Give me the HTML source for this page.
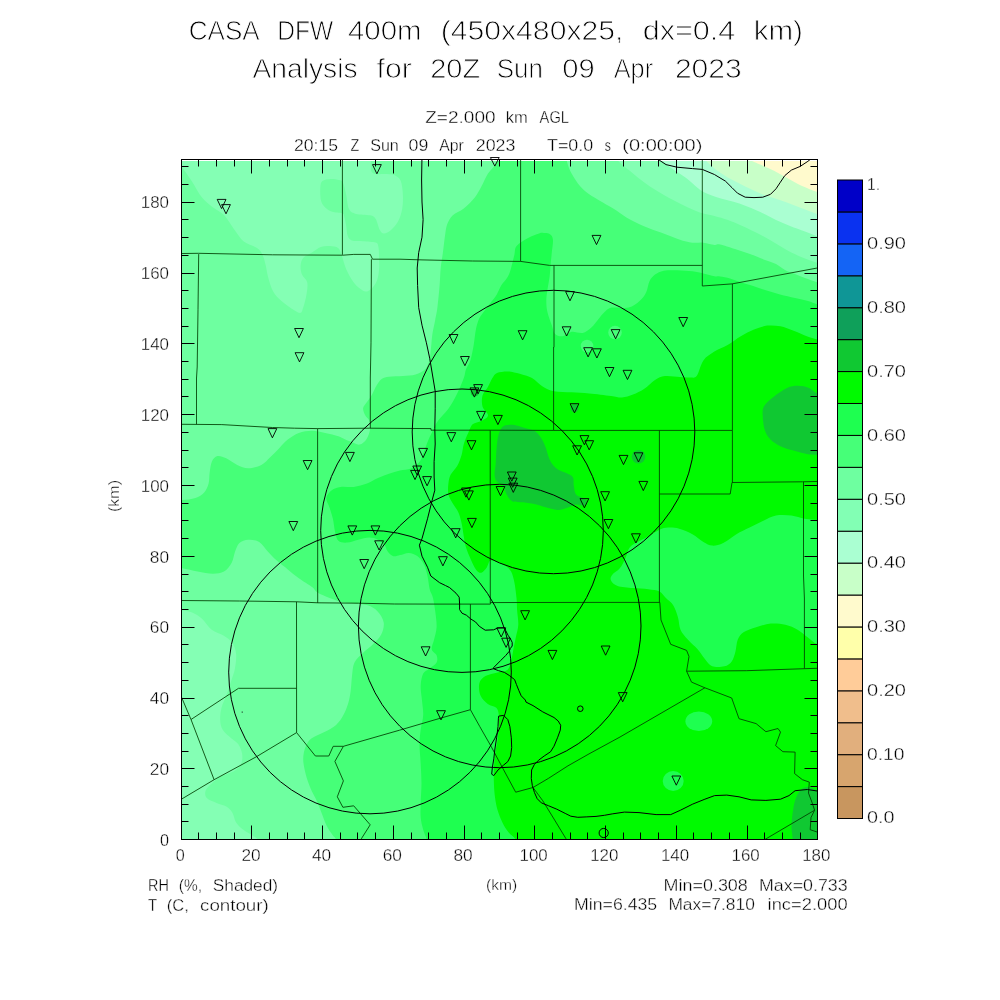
<!DOCTYPE html><html><head><meta charset="utf-8"><title>plot</title>
<style>html,body{margin:0;padding:0;background:#fff;}svg{display:block;will-change:transform;font-family:"Liberation Sans",sans-serif;}.t{fill:#000;stroke:#fff;stroke-width:0.9px;}.s{fill:#000;stroke:#fff;stroke-width:0.35px;}</style></head><body>
<svg width="1000" height="1000" viewBox="0 0 1000 1000">
<rect width="1000" height="1000" fill="#fff"/>
<defs><clipPath id="cp"><rect x="181.5" y="159.5" width="636" height="680"/></clipPath></defs>
<g clip-path="url(#cp)">
<rect x="170" y="150" width="660" height="700" fill="#6EFFA0"/>
<path d="M370.7 150.0C370.7 152.4 370.6 160.7 370.7 164.2C370.8 167.7 370.6 169.6 371.4 171.2C372.2 172.8 373.0 173.5 375.6 174.0C378.2 174.5 383.5 173.8 386.8 174.0C390.1 174.2 392.9 174.2 395.2 175.4C397.5 176.6 399.5 177.7 400.8 181.0C402.1 184.3 402.7 190.3 402.9 195.0C403.1 199.7 403.0 204.6 402.2 209.0C401.4 213.4 399.9 218.1 398.0 221.6C396.1 225.1 393.3 228.0 391.0 230.0C388.7 232.0 385.9 233.5 384.0 233.5C382.1 233.5 381.2 232.4 379.8 230.0C378.4 227.6 377.2 221.2 375.6 218.8C374.0 216.4 373.3 216.1 370.0 215.3C366.7 214.5 359.5 215.0 356.0 213.9C352.5 212.8 350.6 212.2 349.0 209.0C347.4 205.8 347.1 199.2 346.2 195.0C345.3 190.8 344.3 186.2 343.4 183.8C342.5 181.4 342.7 181.1 340.6 180.3C338.5 179.5 333.8 178.8 330.8 178.9C327.8 179.0 324.1 179.5 322.4 181.0C320.6 182.5 320.5 184.7 320.3 188.0C320.1 191.3 320.2 197.3 321.0 200.6C321.8 203.9 323.3 205.7 325.2 207.6C327.1 209.5 329.4 210.9 332.2 211.8C335.0 212.7 340.0 212.5 342.0 213.2C344.0 213.9 343.4 213.9 344.1 216.0C344.8 218.1 345.6 222.5 346.2 225.8C346.8 229.1 346.7 233.2 347.6 235.6C348.5 238.0 349.2 239.6 351.8 240.5C354.4 241.4 359.0 240.8 363.0 241.2C367.0 241.5 373.0 241.7 375.6 242.6C378.2 243.5 377.8 244.2 378.4 246.8C379.0 249.4 379.0 254.3 379.1 258.0C379.2 261.7 379.5 265.5 379.1 269.2C378.8 272.9 378.3 277.1 377.0 280.4C375.7 283.7 373.3 286.9 371.4 288.8C369.5 290.7 367.7 291.6 365.8 291.6C363.9 291.6 362.3 290.4 360.2 288.8C358.1 287.2 355.5 285.1 353.2 281.8C350.9 278.5 348.1 273.4 346.2 269.2C344.3 265.0 343.3 260.1 342.0 256.6C340.7 253.1 340.5 250.0 338.4 248.2C336.3 246.4 332.5 246.2 329.6 246.0C326.7 245.8 323.7 245.9 320.8 247.0C317.9 248.1 314.9 250.8 312.0 252.6C309.1 254.4 305.1 255.8 303.2 258.0C301.3 260.2 300.8 263.0 300.6 265.8C300.4 268.6 300.9 271.9 302.0 274.6C303.1 277.4 306.4 279.0 307.2 282.3C307.9 285.6 307.2 290.2 306.5 294.4C305.8 298.6 304.3 304.5 303.2 307.6C302.1 310.7 302.2 313.0 300.0 313.0C297.8 313.0 293.5 310.0 290.0 307.6C286.5 305.2 281.9 301.7 279.0 298.8C276.1 295.9 274.2 293.7 272.4 290.0C270.6 286.3 269.1 280.8 268.0 276.8C266.9 272.8 266.7 269.5 265.8 265.8C264.9 262.1 264.0 257.8 262.5 254.8C261.0 251.8 260.1 250.2 257.0 248.0C253.9 245.8 247.5 244.5 243.8 241.6C240.1 238.7 238.3 235.0 235.0 230.6C231.7 226.2 227.7 218.8 224.0 215.0C220.3 211.2 216.7 210.4 213.0 207.5C209.3 204.6 205.7 202.2 202.0 197.6C198.3 193.0 194.5 185.3 191.0 180.0C187.5 174.7 184.2 170.2 181.0 166.0C177.8 161.8 173.5 156.8 172.0 155.0L170.0 150.0Z" fill="#84FFB4"/>
<path d="M170.0 608.0C172.1 608.4 178.7 609.4 182.4 610.2C186.1 611.0 188.9 611.2 192.2 612.6C195.5 614.0 198.8 615.9 202.0 618.7C205.2 621.6 208.0 626.9 211.7 629.7C215.3 632.6 220.4 633.6 223.9 635.8C227.4 638.0 230.4 640.0 232.4 643.1C234.4 646.2 235.7 649.8 236.1 654.1C236.5 658.4 235.7 664.3 234.9 668.8C234.1 673.3 232.6 676.5 231.2 681.0C229.8 685.5 227.9 691.1 226.3 695.6C224.7 700.1 222.5 703.7 221.5 707.8C220.5 711.9 220.0 716.3 220.2 720.0C220.4 723.7 220.9 726.8 222.7 729.8C224.5 732.8 228.6 735.9 231.2 738.3C233.8 740.7 236.7 741.8 238.5 744.4C240.3 747.0 241.8 751.0 242.2 754.2C242.6 757.5 242.4 761.1 241.0 763.9C239.6 766.7 236.9 769.2 233.7 771.2C230.4 773.2 225.2 774.1 221.5 776.1C217.8 778.1 214.3 781.0 211.7 783.4C209.0 785.8 206.4 788.3 205.6 790.8C204.8 793.2 205.0 796.1 206.8 798.1C208.6 800.1 213.3 801.6 216.6 803.0C219.8 804.4 223.7 805.0 226.3 806.6C228.9 808.2 230.8 810.1 232.4 812.7C234.0 815.4 234.3 819.6 236.1 822.5C237.9 825.4 240.6 827.6 243.4 829.8C246.2 832.0 250.8 834.3 253.2 835.9C255.6 837.5 256.5 837.1 258.0 839.5C259.5 841.9 261.3 848.2 262.0 850.0L170.0 850.0Z" fill="#84FFB4"/>
<path d="M608.0 150.0C609.6 151.7 615.3 157.8 617.6 160.2C619.9 162.6 619.4 162.4 622.0 164.6C624.6 166.8 629.3 170.5 633.0 173.4C636.7 176.3 640.0 179.3 644.0 182.2C648.0 185.1 652.4 188.1 657.2 191.0C662.0 193.9 667.5 197.1 672.6 199.8C677.7 202.6 682.9 205.2 688.0 207.5C693.1 209.8 699.0 212.2 703.4 213.6C707.8 215.0 710.3 214.9 714.4 216.0C718.5 217.1 723.7 218.5 728.0 220.0C732.3 221.5 735.5 223.0 740.0 225.0C744.5 227.0 750.0 229.5 755.0 232.0C760.0 234.5 765.0 237.2 770.0 240.0C775.0 242.8 780.0 246.2 785.0 249.0C790.0 251.8 794.6 254.2 800.0 256.5C805.4 258.8 812.5 261.1 817.5 263.0C822.5 264.9 827.9 267.2 830.0 268.0L830.0 150.0Z" fill="#84FFB4"/>
<path d="M650.0 150.0C651.9 151.7 657.8 157.0 661.6 160.2C665.4 163.4 668.6 166.1 672.6 169.0C676.6 171.9 681.6 174.7 685.8 177.8C690.0 181.0 694.5 185.4 697.8 187.9C701.1 190.4 702.6 191.6 705.6 193.1C708.6 194.6 712.3 195.8 716.0 197.0C719.7 198.2 723.8 199.2 727.7 200.3C731.6 201.4 735.5 202.2 739.4 203.5C743.3 204.8 747.2 206.4 751.1 208.0C755.0 209.6 758.6 211.3 762.8 213.3C766.9 215.3 771.5 217.9 776.0 220.0C780.5 222.1 785.2 224.1 790.0 226.0C794.8 227.9 800.4 229.8 805.0 231.5C809.6 233.2 813.3 234.9 817.5 236.5C821.7 238.1 827.9 240.2 830.0 241.0L830.0 150.0Z" fill="#AAFFD2"/>
<path d="M695.0 150.0C696.8 151.8 702.1 157.3 705.6 160.6C709.1 163.9 712.3 166.9 716.0 169.7C719.7 172.5 723.8 175.2 727.7 177.5C731.6 179.8 735.5 181.5 739.4 183.4C743.3 185.3 747.2 187.4 751.1 189.2C755.0 191.0 758.9 192.9 762.8 194.4C766.7 195.9 770.6 197.0 774.5 198.3C778.4 199.6 782.3 200.8 786.2 202.2C790.1 203.6 794.0 205.3 797.9 206.8C801.8 208.3 806.4 210.1 809.6 211.3C812.9 212.5 814.0 212.9 817.4 214.2C820.8 215.5 827.9 218.2 830.0 219.0L830.0 150.0Z" fill="#C8FFC8"/>
<path d="M730.0 150.0C733.5 151.8 745.6 158.0 751.1 160.6C756.6 163.2 758.9 164.1 762.8 165.8C766.7 167.5 770.6 169.1 774.5 171.0C778.4 172.9 782.3 175.3 786.2 177.5C790.1 179.7 794.0 182.1 797.9 184.0C801.8 185.9 806.4 187.9 809.6 189.2C812.9 190.5 814.0 190.7 817.4 192.0C820.8 193.3 827.9 196.2 830.0 197.0L830.0 150.0Z" fill="#FFFACD"/>
<path d="M498.0 150.0C497.8 152.1 498.5 158.5 496.8 162.4C495.1 166.3 490.6 169.4 488.0 173.4C485.4 177.4 483.6 182.6 481.4 186.6C479.2 190.6 477.7 193.9 474.8 197.6C471.9 201.3 467.5 205.7 463.8 208.6C460.1 211.5 455.6 212.6 452.8 215.2C450.1 217.8 448.6 220.7 447.3 224.0C446.0 227.3 445.8 230.2 445.1 235.0C444.4 239.8 443.6 247.1 442.9 252.6C442.2 258.1 441.2 262.5 440.7 268.0C440.1 273.5 440.2 279.0 439.6 285.6C439.1 292.2 438.1 301.9 437.4 307.6C436.7 313.3 436.0 315.6 435.2 320.0C434.4 324.4 433.1 329.3 432.4 334.0C431.7 338.7 431.5 343.8 431.0 348.0C430.5 352.2 430.5 355.7 429.6 359.2C428.7 362.7 427.7 366.4 425.4 369.0C423.1 371.6 419.3 373.4 415.6 374.6C411.9 375.8 407.4 375.6 403.0 376.0C398.6 376.4 392.5 376.2 389.0 376.7C385.5 377.2 384.1 377.3 382.0 378.8C379.9 380.3 378.0 383.2 376.4 385.8C374.8 388.4 373.8 391.4 372.2 394.2C370.6 397.0 368.1 400.3 366.6 402.6C365.1 404.9 363.3 406.1 363.1 408.2C362.9 410.3 364.1 413.1 365.2 415.2C366.2 417.3 368.6 418.5 369.4 420.8C370.2 423.1 370.6 426.2 370.1 429.2C369.6 432.2 368.4 436.4 366.6 439.0C364.9 441.6 362.2 444.1 359.6 444.6C357.0 445.1 353.8 442.7 351.2 441.8C348.6 440.9 346.3 439.9 344.2 439.0C342.1 438.1 341.6 437.3 338.4 436.3C335.2 435.3 329.6 433.9 325.2 433.0C320.8 432.1 316.4 430.8 312.0 430.8C307.6 430.8 302.8 431.5 298.8 433.0C294.8 434.5 291.1 437.0 287.8 439.6C284.5 442.2 281.9 445.5 279.0 448.4C276.1 451.3 273.1 454.4 270.2 457.2C267.3 459.9 265.1 463.1 261.4 464.9C257.7 466.7 252.2 468.2 248.2 468.2C244.2 468.2 240.9 466.5 237.2 464.9C233.5 463.2 229.5 459.8 226.2 458.3C222.9 456.8 219.8 455.6 217.4 456.1C215.0 456.7 213.2 458.9 211.9 461.6C210.6 464.4 210.2 468.9 209.7 472.6C209.1 476.3 209.5 480.3 208.6 483.6C207.7 486.9 206.4 490.0 204.2 492.4C202.0 494.8 199.1 496.6 195.4 497.9C191.7 499.2 186.2 499.6 182.0 500.1C177.8 500.6 172.0 500.9 170.0 501.0L170.0 567.0C172.0 567.2 177.6 567.5 182.2 568.3C186.8 569.1 192.5 570.7 197.6 571.6C202.7 572.5 208.6 573.8 213.0 573.8C217.4 573.8 220.9 573.4 224.0 571.6C227.1 569.8 229.9 566.1 231.7 562.8C233.5 559.5 233.7 555.1 235.0 551.8C236.3 548.5 237.2 545.0 239.4 543.0C241.6 541.0 244.9 539.9 248.2 539.7C251.5 539.5 255.9 539.9 259.2 541.9C262.5 543.9 265.1 548.7 268.0 551.8C270.9 554.9 273.5 557.7 276.8 560.6C280.1 563.5 284.1 566.5 287.8 569.4C291.5 572.3 294.8 575.3 298.8 578.2C302.8 581.1 308.9 584.6 312.0 587.0C315.1 589.4 314.6 590.7 317.5 592.5C320.4 594.3 325.7 596.5 329.6 598.0C333.5 599.5 336.7 600.8 341.0 601.7C345.3 602.6 351.1 602.8 355.6 603.4C360.1 604.0 364.1 604.0 367.8 605.3C371.5 606.6 375.0 608.5 377.6 611.4C380.2 614.2 383.1 618.5 383.7 622.4C384.3 626.3 383.0 630.9 381.2 634.6C379.4 638.3 375.8 641.4 372.7 644.4C369.6 647.4 365.9 649.8 362.9 652.9C359.8 656.0 356.2 658.8 354.4 662.7C352.6 666.6 352.6 671.4 352.0 676.1C351.4 680.8 351.3 686.2 350.7 690.7C350.1 695.2 349.5 698.8 348.3 702.9C347.1 707.0 345.4 711.4 343.4 715.1C341.4 718.8 339.4 722.0 336.1 724.9C332.9 727.8 328.0 730.0 323.9 732.2C319.8 734.4 314.8 735.9 311.7 738.3C308.6 740.7 307.0 743.3 305.6 746.8C304.2 750.2 303.2 754.5 303.2 759.0C303.2 763.5 304.4 768.8 305.6 773.7C306.8 778.6 308.7 783.8 310.5 788.3C312.3 792.8 314.8 796.4 316.6 800.5C318.4 804.6 319.9 808.6 321.5 812.7C323.1 816.8 324.5 821.2 326.3 824.9C328.1 828.6 330.8 832.3 332.4 834.7C334.0 837.1 334.8 837.0 336.1 839.5C337.4 842.0 339.4 848.2 340.0 850.0L830.0 850.0L830.0 287.0C827.9 286.2 821.7 284.0 817.5 282.5C813.3 281.0 808.8 279.4 805.0 278.0C801.2 276.6 798.3 275.3 795.0 274.0C791.7 272.7 788.2 271.7 785.0 270.0C781.8 268.3 779.3 265.7 776.0 264.0C772.7 262.3 769.3 261.7 765.0 260.0C760.7 258.3 755.0 255.8 750.0 254.0C745.0 252.2 740.0 250.6 735.0 249.0C730.0 247.4 723.4 245.2 720.0 244.5C716.6 243.8 717.2 245.2 714.4 244.9C711.6 244.6 707.1 243.1 703.4 242.7C699.7 242.3 696.4 243.2 692.4 242.7C688.4 242.1 684.3 241.1 679.2 239.4C674.1 237.8 667.5 235.0 661.6 232.8C655.7 230.6 649.9 228.8 644.0 226.2C638.1 223.6 631.5 220.3 626.4 217.4C621.3 214.5 617.6 211.3 613.2 208.6C608.8 205.9 604.2 203.4 600.2 201.0C596.2 198.6 592.5 196.7 589.2 194.3C585.9 191.9 583.3 190.1 580.4 186.6C577.5 183.1 573.8 177.4 571.6 173.4C569.4 169.4 568.3 166.3 567.2 162.4C566.1 158.5 565.4 152.1 565.0 150.0Z" fill="#46FF78"/>
<path d="M540.8 232.8C538.6 233.7 531.6 236.1 527.6 238.3C523.6 240.5 518.8 243.2 516.6 246.0C514.4 248.8 515.3 251.1 514.4 254.8C513.5 258.5 512.2 264.3 511.1 268.0C510.0 271.7 509.5 273.9 507.8 276.8C506.1 279.7 503.0 282.7 501.2 285.6C499.4 288.5 498.6 291.5 496.8 294.4C495.0 297.3 492.4 300.3 490.2 303.2C488.0 306.1 485.4 309.4 483.6 312.0C481.8 314.6 480.5 315.7 479.2 318.6C477.9 321.5 476.8 325.2 475.9 329.6C475.0 334.0 474.6 339.9 473.7 345.0C472.8 350.1 471.7 356.4 470.4 360.4C469.1 364.4 467.1 366.3 466.0 369.2C464.9 372.1 465.3 374.0 463.8 378.0C462.3 382.0 459.8 388.3 457.2 393.4C454.6 398.5 451.6 404.2 448.4 408.8C445.2 413.4 440.7 417.0 438.0 420.8C435.3 424.6 434.1 428.2 432.4 431.6C430.7 435.0 429.4 437.7 428.0 441.0C426.6 444.3 425.4 448.2 424.0 451.6C422.6 455.0 422.0 458.8 419.8 461.6C417.6 464.4 414.3 466.9 411.0 468.4C407.7 469.9 403.7 469.6 400.0 470.5C396.3 471.4 392.7 472.4 389.0 473.7C385.3 475.0 381.7 476.5 378.0 478.1C374.3 479.8 371.0 482.1 367.0 483.6C363.0 485.1 358.2 486.3 353.8 486.9C349.4 487.4 344.3 486.3 340.6 486.9C336.9 487.4 334.2 488.4 331.8 490.2C329.4 492.0 326.7 495.0 326.3 497.9C325.9 500.8 328.5 504.3 329.6 507.8C330.7 511.3 332.0 514.8 332.9 518.8C333.8 522.8 334.2 528.3 335.1 532.0C336.0 535.7 336.4 539.0 338.4 540.8C340.4 542.6 343.9 542.8 347.2 542.6C350.5 542.4 354.5 540.6 358.2 539.7C361.9 538.9 365.9 537.5 369.2 537.5C372.5 537.5 375.4 538.4 378.0 539.7C380.6 541.0 383.0 543.2 384.6 545.2C386.2 547.2 386.4 550.0 387.9 551.8C389.4 553.6 391.4 555.7 393.4 556.2C395.4 556.8 397.4 555.7 400.0 555.1C402.6 554.5 405.9 552.7 408.8 552.9C411.7 553.1 415.0 554.2 417.6 556.2C420.2 558.2 422.6 561.7 424.2 565.0C425.8 568.3 426.6 572.0 427.5 576.0C428.4 580.0 428.8 585.5 429.7 589.2C430.6 592.9 432.1 594.1 433.0 598.0C433.9 601.9 434.8 607.7 435.4 612.6C436.0 617.5 436.8 622.8 436.6 627.3C436.4 631.8 434.9 635.9 434.1 639.5C433.3 643.1 431.3 646.6 431.7 649.2C432.1 651.8 435.8 653.1 436.6 655.3C437.4 657.5 437.8 660.4 436.6 662.6C435.4 664.8 431.5 666.9 429.3 668.7C427.1 670.5 424.6 670.8 423.2 673.6C421.8 676.5 420.9 681.3 420.7 685.8C420.5 690.3 421.6 695.5 422.0 700.4C422.4 705.3 423.4 710.2 423.2 715.1C423.0 720.0 421.3 724.8 420.7 729.7C420.1 734.6 419.5 738.6 419.5 744.3C419.5 750.0 420.4 757.4 420.7 763.9C421.0 770.4 421.5 776.9 421.5 783.4C421.5 789.9 420.8 797.2 420.7 802.9C420.6 808.6 420.3 813.0 420.7 817.5C421.1 822.0 422.2 826.0 423.2 829.7C424.2 833.4 425.7 836.1 426.8 839.5C427.9 842.9 429.5 848.2 430.0 850.0L830.0 850.0L830.0 309.0C827.9 308.2 821.2 305.8 817.5 304.5C813.8 303.2 811.8 302.1 808.0 301.0C804.2 299.9 799.7 299.1 795.0 298.0C790.3 296.9 785.0 295.8 780.0 294.5C775.0 293.2 770.0 291.6 765.0 290.0C760.0 288.4 754.2 286.3 750.0 285.0C745.8 283.7 743.3 283.1 740.0 282.0C736.7 280.9 733.3 279.4 730.0 278.5C726.7 277.6 722.6 276.9 720.0 276.5C717.4 276.1 717.2 276.8 714.4 276.3C711.6 275.8 707.1 274.3 703.4 273.5C699.7 272.7 696.8 271.9 692.4 271.3C688.0 270.8 681.8 270.3 677.0 270.2C672.2 270.1 667.5 270.0 663.8 270.7C660.1 271.4 657.4 272.9 655.0 274.6C652.6 276.4 651.0 278.3 649.5 281.2C648.0 284.1 647.9 288.9 646.2 292.2C644.6 295.5 642.5 298.4 639.6 301.0C636.7 303.6 633.2 306.5 628.6 307.6C624.0 308.7 616.0 306.9 612.0 307.6C608.0 308.3 606.9 310.0 604.6 312.0C602.3 314.0 600.2 317.1 598.0 319.7C595.8 322.3 594.0 325.2 591.4 327.4C588.8 329.6 585.9 332.2 582.6 332.9C579.3 333.6 574.9 331.2 571.6 331.8C568.3 332.4 565.5 335.8 562.8 336.2C560.0 336.6 556.9 335.8 555.1 334.0C553.3 332.2 553.1 328.9 551.8 325.2C550.5 321.5 548.3 316.0 547.4 312.0C546.5 308.0 546.3 304.7 546.3 301.0C546.3 297.3 546.8 294.0 547.4 290.0C548.0 286.0 549.0 281.2 549.6 276.8C550.2 272.4 550.3 267.6 550.7 263.6C551.1 259.6 551.4 256.6 551.8 252.6C552.2 248.6 553.3 242.5 552.9 239.4C552.5 236.3 551.6 235.0 549.6 233.9C547.6 232.8 542.3 233.0 540.8 232.8Z" fill="#1EFF50"/>
<circle cx="587" cy="346" r="6.3" fill="#46FF78"/><circle cx="615" cy="332.5" r="6.8" fill="#46FF78"/>
<path d="M518.8 373.5C517.0 373.2 511.6 371.6 508.0 371.5C504.4 371.4 499.6 371.9 497.0 373.0C494.4 374.1 493.9 375.7 492.4 378.0C490.9 380.3 489.6 383.9 488.0 386.8C486.4 389.7 483.4 392.3 482.5 395.6C481.6 398.9 481.6 403.3 482.5 406.6C483.4 409.9 488.2 413.0 488.0 415.4C487.8 417.8 484.0 419.4 481.4 420.9C478.8 422.4 474.8 422.2 472.6 424.2C470.4 426.2 469.7 429.7 468.2 433.0C466.7 436.3 464.9 440.3 463.8 444.0C462.7 447.7 462.7 451.3 461.6 455.0C460.5 458.7 459.0 462.7 457.2 466.0C455.4 469.3 452.1 471.9 450.6 474.8C449.1 477.7 448.8 480.3 448.4 483.6C448.0 486.9 447.7 491.3 448.4 494.6C449.1 497.9 451.1 500.5 452.8 503.4C454.5 506.3 456.8 508.9 458.3 512.2C459.8 515.5 460.7 519.2 461.6 523.2C462.5 527.2 463.1 532.4 463.8 536.4C464.5 540.4 464.9 543.7 466.0 547.4C467.1 551.1 468.8 554.7 470.4 558.4C472.0 562.1 474.1 567.0 475.9 569.4C477.7 571.8 479.6 573.1 481.4 572.7C483.2 572.3 485.4 569.2 486.9 567.2C488.4 565.2 488.5 561.5 490.2 560.6C491.9 559.7 494.2 560.8 496.8 561.7C499.4 562.6 503.2 564.5 505.6 566.1C508.0 567.8 509.6 568.9 511.1 571.6C512.6 574.4 513.5 578.2 514.4 582.6C515.3 587.0 516.0 593.4 516.5 598.0C517.0 602.6 516.8 605.7 517.1 610.2C517.4 614.7 518.5 620.3 518.3 624.8C518.1 629.3 516.7 632.9 515.9 637.0C515.1 641.1 514.2 645.1 513.4 649.2C512.6 653.3 512.0 657.9 511.0 661.4C510.0 664.9 509.5 668.2 507.3 670.0C505.1 671.8 501.2 671.4 497.6 672.4C494.0 673.4 488.4 674.2 485.4 676.0C482.3 677.8 480.1 680.1 479.3 683.4C478.5 686.7 479.1 692.1 480.5 695.6C481.9 699.1 485.2 702.1 487.8 704.1C490.4 706.1 494.5 706.0 496.3 707.8C498.1 709.6 498.4 711.9 498.8 715.1C499.2 718.4 499.0 723.2 498.8 727.3C498.6 731.4 498.2 735.0 497.6 739.5C497.0 744.0 495.7 749.2 495.1 754.1C494.5 759.0 494.1 763.8 493.9 768.7C493.7 773.6 493.7 778.5 493.9 783.4C494.1 788.3 494.5 793.5 495.1 798.0C495.7 802.5 496.4 806.1 497.6 810.2C498.8 814.3 500.6 818.7 502.4 822.4C504.2 826.1 506.2 829.4 508.5 832.2C510.8 835.1 513.6 836.5 515.9 839.5C518.1 842.5 521.0 848.2 522.0 850.0L830.0 850.0L830.0 343.0C827.9 342.4 821.3 340.6 817.4 339.5C813.5 338.4 810.8 337.7 806.8 336.2C802.8 334.7 798.0 332.3 793.6 330.7C789.2 329.1 784.8 327.1 780.4 326.3C776.0 325.5 771.6 325.1 767.2 325.6C762.8 326.2 758.4 327.8 754.0 329.6C749.6 331.4 745.2 333.6 740.8 336.2C736.4 338.8 732.0 342.4 727.6 345.0C723.2 347.6 718.4 349.0 714.4 351.6C710.4 354.2 706.3 356.4 703.4 360.4C700.5 364.4 699.0 372.9 696.8 375.8C694.6 378.7 692.8 377.3 690.0 377.5C687.2 377.7 684.2 377.2 680.0 377.0C675.8 376.8 669.2 375.5 665.0 376.0C660.8 376.5 658.5 377.8 655.0 380.0C651.5 382.2 647.7 386.6 644.0 389.0C640.3 391.4 636.7 393.1 633.0 394.5C629.3 395.9 625.7 397.2 622.0 397.4C618.3 397.6 616.5 396.6 611.0 395.9C605.5 395.2 595.8 394.0 589.2 393.4C582.6 392.8 577.5 392.7 571.6 392.3C565.7 391.9 558.8 392.1 554.0 391.2C549.2 390.3 546.7 389.0 543.0 386.8C539.3 384.6 536.0 380.2 532.0 378.0C528.0 375.8 521.0 374.2 518.8 373.5Z" fill="#00FA00"/>
<path d="M830.0 645.0C827.9 644.9 821.3 645.6 817.5 644.3C813.7 643.0 810.6 639.4 807.3 637.0C804.0 634.6 801.2 631.7 797.6 629.7C794.0 627.7 789.9 625.8 785.4 624.8C780.9 623.8 775.6 623.2 770.7 623.6C765.8 624.0 760.6 625.9 756.1 627.3C751.6 628.7 747.0 630.1 743.9 632.1C740.8 634.1 739.2 636.2 737.8 639.5C736.4 642.8 736.4 648.1 735.4 651.7C734.4 655.4 733.5 659.0 731.7 661.4C729.9 663.8 727.6 665.5 724.4 666.3C721.1 667.1 715.5 667.5 712.2 666.3C709.0 665.1 707.3 661.9 704.9 659.0C702.5 656.1 700.5 652.5 697.6 649.2C694.8 646.0 690.6 642.8 687.8 639.5C684.9 636.2 682.1 633.4 680.5 629.7C678.9 626.0 679.2 621.6 678.0 617.5C676.8 613.4 675.2 608.5 673.2 605.3C671.2 602.0 668.2 600.3 665.9 598.0C663.6 595.7 662.3 592.9 659.4 591.4C656.5 589.9 652.8 589.8 648.4 589.2C644.0 588.7 638.1 588.7 633.0 588.1C627.9 587.5 621.3 587.2 617.6 585.9C613.9 584.6 611.9 582.2 611.0 580.4C610.1 578.6 610.6 576.9 612.1 574.9C613.6 572.9 617.6 571.0 619.8 568.3C622.0 565.5 623.6 561.9 625.3 558.4C626.9 554.9 627.7 550.1 629.7 547.4C631.7 544.6 634.3 543.7 637.4 541.9C640.5 540.1 644.7 538.4 648.4 536.4C652.1 534.4 656.1 531.3 659.4 529.8C662.7 528.3 664.9 527.8 668.2 527.6C671.5 527.4 675.2 527.6 679.2 528.7C683.2 529.8 688.4 532.0 692.4 534.2C696.4 536.4 700.1 540.0 703.4 541.9C706.7 543.8 708.9 545.4 712.2 545.6C715.5 545.8 719.2 544.9 723.2 543.0C727.2 541.1 732.0 536.8 736.4 534.2C740.8 531.6 745.2 529.8 749.6 527.6C754.0 525.4 758.4 523.0 762.8 521.0C767.2 519.0 771.2 516.4 776.0 515.5C780.8 514.6 786.6 515.0 791.4 515.5C796.2 516.0 800.3 518.1 804.6 518.8C808.9 519.5 813.2 519.7 817.4 519.9C821.6 520.1 827.9 520.0 830.0 520.0Z" fill="#1EFF50"/>
<ellipse cx="698.8" cy="721.2" rx="13.4" ry="9.8" fill="#1EFF50"/>
<ellipse cx="673.2" cy="781" rx="10.5" ry="10" fill="#1EFF50"/>
<path d="M505.6 425.3C507.8 424.7 511.5 424.5 514.4 424.9C517.3 425.3 519.9 426.5 523.2 427.5C526.5 428.5 531.3 429.2 534.2 430.8C537.1 432.4 539.0 434.8 540.8 437.4C542.6 440.0 543.7 442.5 545.2 446.2C546.7 449.9 547.8 455.7 549.6 459.4C551.4 463.1 553.6 466.0 556.2 468.2C558.8 470.4 562.2 471.1 565.0 472.6C567.8 474.1 571.2 474.8 572.7 477.0C574.2 479.2 573.2 482.9 573.8 485.8C574.3 488.7 574.5 492.6 576.0 494.6C577.5 496.6 580.8 496.8 582.6 497.9C584.4 499.0 586.6 499.9 587.0 501.2C587.4 502.5 586.6 505.1 584.8 505.6C583.0 506.2 578.9 504.1 576.0 504.5C573.1 504.9 570.1 506.9 567.2 507.8C564.3 508.7 561.7 510.0 558.4 510.0C555.1 510.0 551.1 508.7 547.4 507.8C543.7 506.9 540.4 505.4 536.4 504.5C532.4 503.6 527.2 502.9 523.2 502.3C519.2 501.8 515.0 502.5 512.2 501.2C509.5 499.9 508.2 497.2 506.7 494.6C505.2 492.0 505.0 488.0 503.4 485.8C501.8 483.6 498.3 483.2 496.8 481.4C495.3 479.6 494.8 477.7 494.6 474.8C494.4 471.9 495.4 467.8 495.7 463.8C496.0 459.8 496.0 455.0 496.4 450.6C496.8 446.2 497.1 441.1 497.9 437.4C498.7 433.7 499.9 430.6 501.2 428.6C502.5 426.6 503.4 425.9 505.6 425.3Z" fill="#10C832"/>
<path d="M830.0 397.0C827.9 396.4 820.9 394.9 817.4 393.4C813.9 391.9 812.2 389.2 809.0 387.9C805.8 386.6 801.7 385.7 798.0 385.7C794.3 385.7 791.0 386.1 787.0 387.9C783.0 389.7 777.6 393.6 773.8 396.7C769.9 399.8 765.7 403.1 763.9 406.6C762.1 410.1 762.6 413.6 762.8 417.6C763.0 421.6 763.7 427.1 765.0 430.8C766.3 434.5 767.9 437.0 770.5 439.6C773.1 442.2 776.5 444.4 780.4 446.2C784.2 448.0 789.2 449.3 793.6 450.6C798.0 451.9 802.8 453.2 806.8 453.9C810.8 454.6 813.5 454.6 817.4 455.0C821.3 455.4 827.9 455.8 830.0 456.0Z" fill="#10C832"/>
<path d="M792.7 850.0C792.7 848.2 792.9 843.3 792.7 839.5C792.5 835.7 791.5 831.8 791.5 827.3C791.5 822.8 792.1 817.1 792.7 812.6C793.3 808.1 793.9 804.0 795.1 800.4C796.3 796.8 798.0 792.9 800.0 790.7C802.0 788.5 804.4 787.0 807.3 787.0C810.2 787.0 813.7 789.4 817.5 790.7C821.3 792.0 827.9 794.3 830.0 795.0L830.0 850.0Z" fill="#10C832"/>
<circle cx="638.5" cy="456.8" r="6.8" fill="#10C832"/>
<circle cx="574.5" cy="408" r="4" fill="#10C832"/>
<circle cx="474.8" cy="392.3" r="4" fill="#10C832"/>
<rect x="182" y="160" width="635" height="1" fill="#fff"/>
<path d="M170.0 253.7L198.7 253.3L272.4 254.8L342.8 255.2L353.8 254.4L370.3 254.4L372.5 259.2L400.0 259.2L422.0 259.9L472.6 261.0L520.6 261.4L549.6 265.4L620.0 265.4L702.3 265.4M342.4 150.0L342.4 254.8M198.7 254.1L198.0 309.8L197.2 367.0L196.5 378.0L196.5 424.2M371.4 259.2L371.0 342.8L370.3 378.0L370.3 428.2M170.0 424.2L221.8 424.6L246.0 426.0L272.4 427.5L294.4 428.2L317.5 428.6L369.2 428.2L400.0 428.4L431.0 428.6L431.0 430.2L490.2 430.2L553.6 430.4L620.0 430.4L732.0 430.4M317.6 428.6L317.7 603.0M170.0 600.4L239.6 601.0L296.8 601.8L317.7 602.8L358.4 603.2L394.7 604.0L440.0 604.1L490.4 604.1L490.4 602.6L520.0 602.5L600.0 602.4L659.8 602.4M296.5 601.8L296.6 732.6M238.5 688.3L296.5 688.3M238.5 688.3L191.0 719.5M181.0 696.0L191.0 719.5L214.1 779.7M170.0 806.0L214.1 779.7L256.8 756.5L296.6 732.6M296.6 732.6L315.4 756.0L328.8 756.0L333.2 746.3L343.4 746.3L399.5 730.2L441.0 718.0L470.4 709.7M343.4 746.3L334.9 761.4L343.4 780.9L337.3 796.8L342.9 807.3L353.7 805.8L370.2 824.8L361.7 838.2L359.0 845.0M470.4 604.1L470.4 709.7L479.8 726.6L491.0 746.2L502.2 767.2L515.7 792.2L533.0 787.5L548.4 778.4L568.0 765.8L589.0 753.9L620.0 737.0L704.9 687.8M533.0 787.5L542.8 800.8L554.0 819.0L565.9 838.6L570.0 845.0M659.8 602.4L661.0 620.0L670.7 644.3L686.6 650.4L689.0 656.5L686.6 671.2L691.5 682.1L704.9 687.8L731.7 698.0L739.0 718.7L756.1 723.6L765.9 731.7L778.0 728.5L780.5 732.1L775.6 745.6L782.9 751.7L795.1 752.1L794.6 773.6L802.4 779.7L809.3 782.1L808.5 793.1L812.2 802.9L814.6 810.2L811.0 817.5L810.2 829.7L820.0 833.0M686.6 671.2L746.3 670.7L804.4 668.7L820.0 668.2M804.4 598.0L804.4 668.7M814.6 810.2L767.1 838.2L756.0 845.0M732.4 283.9L732.4 482.5M659.4 430.4L659.4 602.4M659.4 494.0L730.2 494.0L732.0 482.5L802.4 481.8L820.0 481.4M803.5 481.8L803.5 576.0L804.4 598.0M553.6 347.0L553.6 430.4M490.2 430.2L490.3 603.0M520.6 150.0L520.6 261.4M554.0 265.4L554.0 347.2M702.3 150.0L702.3 286.0L732.0 283.9L820.0 267.5" fill="none" stroke="#003c00" stroke-width="0.85" stroke-linejoin="round"/>
<ellipse cx="553.5" cy="432.0" rx="141.3" ry="141.7" fill="none" stroke="#000" stroke-width="1"/>
<ellipse cx="462.0" cy="530.7" rx="141.3" ry="141.7" fill="none" stroke="#000" stroke-width="1"/>
<ellipse cx="499.7" cy="626.0" rx="141.3" ry="141.7" fill="none" stroke="#000" stroke-width="1"/>
<ellipse cx="370.0" cy="672.1" rx="141.3" ry="141.7" fill="none" stroke="#000" stroke-width="1"/>
<circle cx="580.3" cy="708.7" r="2.8" fill="none" stroke="#000" stroke-width="1"/>
<circle cx="603.7" cy="833" r="4.6" fill="none" stroke="#000" stroke-width="1"/>
<rect x="241.7" y="711.6" width="1" height="1" fill="#000"/>
<path d="M656.1 158.0L666.0 164.6L677.0 167.2L692.4 168.6L702.3 169.4L714.4 174.5L725.4 181.1L732.0 187.7L737.5 193.2L745.2 197.2L754.0 197.6L762.8 197.2L770.5 194.3L776.0 188.8L780.4 182.2L784.8 175.6L791.4 170.1L800.2 166.4L807.9 161.3L812.0 158.0M422.0 156.0L421.6 180.0L422.0 202.0L423.1 219.6L422.0 237.2L418.7 252.6L417.2 268.0L417.6 285.6L418.7 307.6L422.0 325.2L426.4 342.8L429.7 358.2L433.0 378.0L435.2 391.2L435.2 408.8L434.8 428.6L435.2 444.0L434.1 461.6L434.1 477.0L434.8 490.2L431.9 501.2L427.5 518.8L422.0 538.6L419.4 545.2L422.0 556.2L427.5 567.2L430.8 576.0L439.6 582.7L445.6 585.6L449.6 587.6L456.0 593.2L459.2 597.2L459.6 604.0L459.6 609.6L462.0 613.2L466.4 615.2L470.8 619.0L475.6 622.0L479.2 626.2L485.2 630.2L493.6 629.8L497.8 628.0L505.0 627.8L505.6 630.4L508.0 635.2L510.4 638.8L512.2 642.4L512.2 646.0L510.4 648.4L509.2 651.4L505.6 655.6L500.8 660.4L497.2 664.0L493.6 667.6L493.6 668.8L498.4 670.6L504.4 672.4L509.2 675.4L514.6 679.6L516.4 684.4L518.8 690.4L521.2 695.8L525.3 700.0L526.0 702.1L533.0 705.6L542.8 711.9L554.0 717.5L558.2 721.0L560.7 725.2L560.3 730.1L557.5 737.8L554.0 746.2L550.5 751.8L544.2 756.0L538.6 760.2L534.4 764.4L531.6 770.0L531.3 778.4L532.3 785.4L534.4 792.4L537.2 798.7L541.4 802.9L548.4 805.7L556.8 809.2L565.2 813.4L570.8 816.2L577.8 817.3L586.2 816.9L596.0 816.4L604.4 815.3L612.2 813.9L624.4 812.1L639.0 812.6L656.1 814.6L670.7 814.6L680.5 810.2L692.7 804.1L704.9 799.2L714.6 795.6L726.8 795.1L739.0 796.8L751.2 799.9L765.9 800.4L780.5 799.2L789.0 795.6L795.1 790.7L807.3 789.5L820.0 791.4M498.7 716.1L503.6 715.4L507.8 719.6L509.9 726.6L511.3 737.8L511.7 747.6L510.6 756.0L507.8 761.6L503.6 765.1L498.0 770.0L493.8 775.6L491.7 774.2L492.4 767.2L493.8 758.8L494.9 749.0L496.6 737.8L498.0 726.6L498.4 718.2Z" fill="none" stroke="#000" stroke-width="1" stroke-linejoin="round"/>
<path d="M217.2 199.4h8.8l-4.4 9.2ZM221.6 204.6h8.8l-4.4 9.2ZM372.5 164.6h8.8l-4.4 9.2ZM294.6 328.5h8.8l-4.4 9.2ZM295.1 352.7h8.8l-4.4 9.2ZM592.1 235.4h8.8l-4.4 9.2ZM565.6 291.6h8.8l-4.4 9.2ZM449.1 334.5h8.8l-4.4 9.2ZM460.5 356.5h8.8l-4.4 9.2ZM518.2 330.7h8.8l-4.4 9.2ZM562.2 326.8h8.8l-4.4 9.2ZM583.7 347.7h8.8l-4.4 9.2ZM592.5 348.8h8.8l-4.4 9.2ZM611.2 329.6h8.8l-4.4 9.2ZM605.1 367.5h8.8l-4.4 9.2ZM678.8 317.5h8.8l-4.4 9.2ZM623.1 370.3h8.8l-4.4 9.2ZM268.0 428.6h8.8l-4.4 9.2ZM303.2 460.5h8.8l-4.4 9.2ZM345.5 452.4h8.8l-4.4 9.2ZM288.9 521.5h8.8l-4.4 9.2ZM347.9 525.9h8.8l-4.4 9.2ZM371.0 525.9h8.8l-4.4 9.2ZM374.7 540.8h8.8l-4.4 9.2ZM359.8 559.5h8.8l-4.4 9.2ZM473.7 384.6h8.8l-4.4 9.2ZM470.0 387.9h8.8l-4.4 9.2ZM476.6 411.4h8.8l-4.4 9.2ZM493.5 415.4h8.8l-4.4 9.2ZM570.1 403.7h8.8l-4.4 9.2ZM446.9 432.6h8.8l-4.4 9.2ZM467.1 440.7h8.8l-4.4 9.2ZM418.7 448.4h8.8l-4.4 9.2ZM412.8 466.0h8.8l-4.4 9.2ZM410.6 470.4h8.8l-4.4 9.2ZM422.7 476.6h8.8l-4.4 9.2ZM580.0 435.6h8.8l-4.4 9.2ZM584.8 440.7h8.8l-4.4 9.2ZM572.7 445.8h8.8l-4.4 9.2ZM507.4 472.0h8.8l-4.4 9.2ZM508.3 478.1h8.8l-4.4 9.2ZM508.9 483.2h8.8l-4.4 9.2ZM496.1 486.5h8.8l-4.4 9.2ZM461.6 488.0h8.8l-4.4 9.2ZM464.5 490.9h8.8l-4.4 9.2ZM600.7 491.7h8.8l-4.4 9.2ZM580.0 498.6h8.8l-4.4 9.2ZM467.5 518.4h8.8l-4.4 9.2ZM451.3 528.7h8.8l-4.4 9.2ZM604.0 519.5h8.8l-4.4 9.2ZM438.5 556.7h8.8l-4.4 9.2ZM619.1 455.4h8.8l-4.4 9.2ZM634.1 452.8h8.8l-4.4 9.2ZM638.9 481.4h8.8l-4.4 9.2ZM631.5 533.8h8.8l-4.4 9.2ZM520.7 610.7h8.8l-4.4 9.2ZM421.2 646.8h8.8l-4.4 9.2ZM496.8 627.8h8.8l-4.4 9.2ZM501.7 638.2h8.8l-4.4 9.2ZM548.0 650.4h8.8l-4.4 9.2ZM601.2 646.0h8.8l-4.4 9.2ZM436.6 710.7h8.8l-4.4 9.2ZM618.3 692.6h8.8l-4.4 9.2ZM671.9 776.0h8.8l-4.4 9.2Z" fill="none" stroke="#000" stroke-width="0.9" stroke-linejoin="miter"/>
</g>
<path d="M490.4 157.5h8.8l-4.4 8.6Z" fill="none" stroke="#000" stroke-width="0.9"/>
<path d="M181.5 839.5v-14M181.5 159.5v14M198.5 839.5v-7M198.5 159.5v7M216.5 839.5v-7M216.5 159.5v7M234.5 839.5v-7M234.5 159.5v7M251.5 839.5v-14M251.5 159.5v14M269.5 839.5v-7M269.5 159.5v7M287.5 839.5v-7M287.5 159.5v7M304.5 839.5v-7M304.5 159.5v7M322.5 839.5v-14M322.5 159.5v14M340.5 839.5v-7M340.5 159.5v7M357.5 839.5v-7M357.5 159.5v7M375.5 839.5v-7M375.5 159.5v7M393.5 839.5v-14M393.5 159.5v14M411.5 839.5v-7M411.5 159.5v7M428.5 839.5v-7M428.5 159.5v7M446.5 839.5v-7M446.5 159.5v7M464.5 839.5v-14M464.5 159.5v14M481.5 839.5v-7M481.5 159.5v7M499.5 839.5v-7M499.5 159.5v7M517.5 839.5v-7M517.5 159.5v7M534.5 839.5v-14M534.5 159.5v14M552.5 839.5v-7M552.5 159.5v7M570.5 839.5v-7M570.5 159.5v7M587.5 839.5v-7M587.5 159.5v7M605.5 839.5v-14M605.5 159.5v14M623.5 839.5v-7M623.5 159.5v7M640.5 839.5v-7M640.5 159.5v7M658.5 839.5v-7M658.5 159.5v7M676.5 839.5v-14M676.5 159.5v14M693.5 839.5v-7M693.5 159.5v7M711.5 839.5v-7M711.5 159.5v7M729.5 839.5v-7M729.5 159.5v7M747.5 839.5v-14M747.5 159.5v14M764.5 839.5v-7M764.5 159.5v7M782.5 839.5v-7M782.5 159.5v7M800.5 839.5v-7M800.5 159.5v7M817.5 839.5v-14M817.5 159.5v14M181.5 839.5h13M817.5 839.5h-13M181.5 821.5h7M817.5 821.5h-7M181.5 804.5h7M817.5 804.5h-7M181.5 786.5h7M817.5 786.5h-7M181.5 768.5h13M817.5 768.5h-13M181.5 751.5h7M817.5 751.5h-7M181.5 733.5h7M817.5 733.5h-7M181.5 715.5h7M817.5 715.5h-7M181.5 698.5h13M817.5 698.5h-13M181.5 680.5h7M817.5 680.5h-7M181.5 662.5h7M817.5 662.5h-7M181.5 644.5h7M817.5 644.5h-7M181.5 627.5h13M817.5 627.5h-13M181.5 609.5h7M817.5 609.5h-7M181.5 591.5h7M817.5 591.5h-7M181.5 574.5h7M817.5 574.5h-7M181.5 556.5h13M817.5 556.5h-13M181.5 538.5h7M817.5 538.5h-7M181.5 520.5h7M817.5 520.5h-7M181.5 503.5h7M817.5 503.5h-7M181.5 485.5h13M817.5 485.5h-13M181.5 467.5h7M817.5 467.5h-7M181.5 450.5h7M817.5 450.5h-7M181.5 432.5h7M817.5 432.5h-7M181.5 414.5h13M817.5 414.5h-13M181.5 396.5h7M817.5 396.5h-7M181.5 379.5h7M817.5 379.5h-7M181.5 361.5h7M817.5 361.5h-7M181.5 343.5h13M817.5 343.5h-13M181.5 326.5h7M817.5 326.5h-7M181.5 308.5h7M817.5 308.5h-7M181.5 290.5h7M817.5 290.5h-7M181.5 273.5h13M817.5 273.5h-13M181.5 255.5h7M817.5 255.5h-7M181.5 237.5h7M817.5 237.5h-7M181.5 219.5h7M817.5 219.5h-7M181.5 202.5h13M817.5 202.5h-13M181.5 184.5h7M817.5 184.5h-7M181.5 166.5h7M817.5 166.5h-7" stroke="#000" stroke-width="1" fill="none"/>
<rect x="181.5" y="159.5" width="636" height="680" fill="none" stroke="#000" stroke-width="1"/>
<text class="s" x="180.3" y="861" font-size="16" text-anchor="middle" textLength="9" lengthAdjust="spacingAndGlyphs">0</text>
<text class="s" x="251.0" y="861" font-size="16" text-anchor="middle" textLength="19.2" lengthAdjust="spacingAndGlyphs">20</text>
<text class="s" x="321.6" y="861" font-size="16" text-anchor="middle" textLength="19.2" lengthAdjust="spacingAndGlyphs">40</text>
<text class="s" x="392.3" y="861" font-size="16" text-anchor="middle" textLength="19.2" lengthAdjust="spacingAndGlyphs">60</text>
<text class="s" x="463.0" y="861" font-size="16" text-anchor="middle" textLength="19.2" lengthAdjust="spacingAndGlyphs">80</text>
<text class="s" x="533.6" y="861" font-size="16" text-anchor="middle" textLength="28.2" lengthAdjust="spacingAndGlyphs">100</text>
<text class="s" x="604.3" y="861" font-size="16" text-anchor="middle" textLength="28.2" lengthAdjust="spacingAndGlyphs">120</text>
<text class="s" x="675.0" y="861" font-size="16" text-anchor="middle" textLength="28.2" lengthAdjust="spacingAndGlyphs">140</text>
<text class="s" x="745.6" y="861" font-size="16" text-anchor="middle" textLength="28.2" lengthAdjust="spacingAndGlyphs">160</text>
<text class="s" x="816.3" y="861" font-size="16" text-anchor="middle" textLength="28.2" lengthAdjust="spacingAndGlyphs">180</text>
<text class="s" x="169" y="845.8" font-size="16" text-anchor="end" textLength="9" lengthAdjust="spacingAndGlyphs">0</text>
<text class="s" x="169" y="775.0" font-size="16" text-anchor="end" textLength="19.2" lengthAdjust="spacingAndGlyphs">20</text>
<text class="s" x="169" y="704.1" font-size="16" text-anchor="end" textLength="19.2" lengthAdjust="spacingAndGlyphs">40</text>
<text class="s" x="169" y="633.3" font-size="16" text-anchor="end" textLength="19.2" lengthAdjust="spacingAndGlyphs">60</text>
<text class="s" x="169" y="562.5" font-size="16" text-anchor="end" textLength="19.2" lengthAdjust="spacingAndGlyphs">80</text>
<text class="s" x="169" y="491.6" font-size="16" text-anchor="end" textLength="28.2" lengthAdjust="spacingAndGlyphs">100</text>
<text class="s" x="169" y="420.8" font-size="16" text-anchor="end" textLength="28.2" lengthAdjust="spacingAndGlyphs">120</text>
<text class="s" x="169" y="350.0" font-size="16" text-anchor="end" textLength="28.2" lengthAdjust="spacingAndGlyphs">140</text>
<text class="s" x="169" y="279.1" font-size="16" text-anchor="end" textLength="28.2" lengthAdjust="spacingAndGlyphs">160</text>
<text class="s" x="169" y="208.3" font-size="16" text-anchor="end" textLength="28.2" lengthAdjust="spacingAndGlyphs">180</text>
<rect x="837.5" y="786.58" width="25" height="31.93" fill="#C8965F" stroke="#000" stroke-width="1"/>
<rect x="837.5" y="754.65" width="25" height="31.93" fill="#D7A56E" stroke="#000" stroke-width="1"/>
<rect x="837.5" y="722.73" width="25" height="31.93" fill="#E1AF7D" stroke="#000" stroke-width="1"/>
<rect x="837.5" y="690.80" width="25" height="31.93" fill="#F0BE8C" stroke="#000" stroke-width="1"/>
<rect x="837.5" y="658.88" width="25" height="31.93" fill="#FFCC99" stroke="#000" stroke-width="1"/>
<rect x="837.5" y="626.95" width="25" height="31.93" fill="#FFFFAA" stroke="#000" stroke-width="1"/>
<rect x="837.5" y="595.02" width="25" height="31.93" fill="#FFFACD" stroke="#000" stroke-width="1"/>
<rect x="837.5" y="563.10" width="25" height="31.93" fill="#C8FFC8" stroke="#000" stroke-width="1"/>
<rect x="837.5" y="531.17" width="25" height="31.93" fill="#AAFFD2" stroke="#000" stroke-width="1"/>
<rect x="837.5" y="499.25" width="25" height="31.93" fill="#82FFB4" stroke="#000" stroke-width="1"/>
<rect x="837.5" y="467.32" width="25" height="31.93" fill="#6EFFA0" stroke="#000" stroke-width="1"/>
<rect x="837.5" y="435.40" width="25" height="31.93" fill="#46FF78" stroke="#000" stroke-width="1"/>
<rect x="837.5" y="403.47" width="25" height="31.93" fill="#1EFF50" stroke="#000" stroke-width="1"/>
<rect x="837.5" y="371.55" width="25" height="31.93" fill="#00FA00" stroke="#000" stroke-width="1"/>
<rect x="837.5" y="339.62" width="25" height="31.93" fill="#10C832" stroke="#000" stroke-width="1"/>
<rect x="837.5" y="307.70" width="25" height="31.93" fill="#0FA05A" stroke="#000" stroke-width="1"/>
<rect x="837.5" y="275.77" width="25" height="31.93" fill="#0F9696" stroke="#000" stroke-width="1"/>
<rect x="837.5" y="243.85" width="25" height="31.93" fill="#1464F5" stroke="#000" stroke-width="1"/>
<rect x="837.5" y="211.92" width="25" height="31.93" fill="#0A32F0" stroke="#000" stroke-width="1"/>
<rect x="837.5" y="180.00" width="25" height="31.93" fill="#0000C8" stroke="#000" stroke-width="1"/>
<text class="s" x="867" y="823.0" font-size="16.5" textLength="27.5" lengthAdjust="spacingAndGlyphs">0.0</text>
<text class="s" x="867" y="759.9" font-size="16.5" textLength="37.5" lengthAdjust="spacingAndGlyphs">0.10</text>
<text class="s" x="867" y="696.1" font-size="16.5" textLength="39" lengthAdjust="spacingAndGlyphs">0.20</text>
<text class="s" x="867" y="632.2" font-size="16.5" textLength="39" lengthAdjust="spacingAndGlyphs">0.30</text>
<text class="s" x="867" y="568.4" font-size="16.5" textLength="39" lengthAdjust="spacingAndGlyphs">0.40</text>
<text class="s" x="867" y="504.6" font-size="16.5" textLength="39" lengthAdjust="spacingAndGlyphs">0.50</text>
<text class="s" x="867" y="440.7" font-size="16.5" textLength="39" lengthAdjust="spacingAndGlyphs">0.60</text>
<text class="s" x="867" y="376.9" font-size="16.5" textLength="39" lengthAdjust="spacingAndGlyphs">0.70</text>
<text class="s" x="867" y="313.0" font-size="16.5" textLength="39" lengthAdjust="spacingAndGlyphs">0.80</text>
<text class="s" x="867" y="249.2" font-size="16.5" textLength="39" lengthAdjust="spacingAndGlyphs">0.90</text>
<text class="s" x="867" y="189.6" font-size="16.5" textLength="13" lengthAdjust="spacingAndGlyphs">1.</text>
<text class="t" x="188.7" y="39.9" font-size="28.3" textLength="71.0" lengthAdjust="spacingAndGlyphs">CASA</text>
<text class="t" x="277.2" y="39.9" font-size="28.3" textLength="56.0" lengthAdjust="spacingAndGlyphs">DFW</text>
<text class="t" x="347.9" y="39.9" font-size="28.3" textLength="73.8" lengthAdjust="spacingAndGlyphs">400m</text>
<text class="t" x="440.7" y="39.9" font-size="28.3" textLength="182.7" lengthAdjust="spacingAndGlyphs">(450x480x25,</text>
<text class="t" x="642.7" y="39.9" font-size="28.3" textLength="92.7" lengthAdjust="spacingAndGlyphs">dx=0.4</text>
<text class="t" x="753.7" y="39.9" font-size="28.3" textLength="49.3" lengthAdjust="spacingAndGlyphs">km)</text>
<text class="t" x="252.4" y="78.3" font-size="28.3" textLength="105.3" lengthAdjust="spacingAndGlyphs">Analysis</text>
<text class="t" x="376.6" y="78.3" font-size="28.3" textLength="35.3" lengthAdjust="spacingAndGlyphs">for</text>
<text class="t" x="430.2" y="78.3" font-size="28.3" textLength="50.0" lengthAdjust="spacingAndGlyphs">20Z</text>
<text class="t" x="496.7" y="78.3" font-size="28.3" textLength="46.2" lengthAdjust="spacingAndGlyphs">Sun</text>
<text class="t" x="562.2" y="78.3" font-size="28.3" textLength="32.5" lengthAdjust="spacingAndGlyphs">09</text>
<text class="t" x="613.7" y="78.3" font-size="28.3" textLength="39.5" lengthAdjust="spacingAndGlyphs">Apr</text>
<text class="t" x="674.9" y="78.3" font-size="28.3" textLength="66.8" lengthAdjust="spacingAndGlyphs">2023</text>
<text class="s" x="425.2" y="122.9" font-size="16.5" textLength="70.4" lengthAdjust="spacingAndGlyphs">Z=2.000</text>
<text class="s" x="505.7" y="122.9" font-size="16.5" textLength="22.0" lengthAdjust="spacingAndGlyphs">km</text>
<text class="s" x="539.6" y="122.9" font-size="16.5" textLength="29.4" lengthAdjust="spacingAndGlyphs">AGL</text>
<text class="s" x="294.0" y="150.6" font-size="16.5" textLength="44.0" lengthAdjust="spacingAndGlyphs">20:15</text>
<text class="s" x="350.4" y="150.6" font-size="16.5" textLength="8.8" lengthAdjust="spacingAndGlyphs">Z</text>
<text class="s" x="370.2" y="150.6" font-size="16.5" textLength="28.6" lengthAdjust="spacingAndGlyphs">Sun</text>
<text class="s" x="408.5" y="150.6" font-size="16.5" textLength="19.8" lengthAdjust="spacingAndGlyphs">09</text>
<text class="s" x="439.3" y="150.6" font-size="16.5" textLength="24.6" lengthAdjust="spacingAndGlyphs">Apr</text>
<text class="s" x="475.8" y="150.6" font-size="16.5" textLength="39.6" lengthAdjust="spacingAndGlyphs">2023</text>
<text class="s" x="547.0" y="150.6" font-size="16.5" textLength="46.2" lengthAdjust="spacingAndGlyphs">T=0.0</text>
<text class="s" x="604.7" y="150.6" font-size="16.5" textLength="6.1" lengthAdjust="spacingAndGlyphs">s</text>
<text class="s" x="622.3" y="150.6" font-size="16.5" textLength="80.1" lengthAdjust="spacingAndGlyphs">(0:00:00)</text>
<text class="s" x="148.0" y="891.2" font-size="16" textLength="20.8" lengthAdjust="spacingAndGlyphs">RH</text>
<text class="s" x="178.8" y="891.2" font-size="16" textLength="23.2" lengthAdjust="spacingAndGlyphs">(%,</text>
<text class="s" x="212.8" y="891.2" font-size="16" textLength="65.2" lengthAdjust="spacingAndGlyphs">Shaded)</text>
<text class="s" x="148.0" y="910.8" font-size="16" textLength="9.2" lengthAdjust="spacingAndGlyphs">T</text>
<text class="s" x="166.8" y="910.8" font-size="16" textLength="22.0" lengthAdjust="spacingAndGlyphs">(C,</text>
<text class="s" x="200.0" y="910.8" font-size="16" textLength="68.8" lengthAdjust="spacingAndGlyphs">contour)</text>
<text class="s" x="663.6" y="891.2" font-size="16" textLength="84.2" lengthAdjust="spacingAndGlyphs">Min=0.308</text>
<text class="s" x="759.0" y="891.2" font-size="16" textLength="88.6" lengthAdjust="spacingAndGlyphs">Max=0.733</text>
<text class="s" x="574.0" y="909.8" font-size="16" textLength="83.2" lengthAdjust="spacingAndGlyphs">Min=6.435</text>
<text class="s" x="668.4" y="909.8" font-size="16" textLength="86.4" lengthAdjust="spacingAndGlyphs">Max=7.810</text>
<text class="s" x="767.6" y="909.8" font-size="16" textLength="80.0" lengthAdjust="spacingAndGlyphs">inc=2.000</text>
<text class="s" x="486.0" y="890.0" font-size="14" textLength="31.2" lengthAdjust="spacingAndGlyphs">(km)</text>
<text class="s" transform="translate(118.5 512) rotate(-90)" font-size="14" textLength="32" lengthAdjust="spacingAndGlyphs">(km)</text>
</svg></body></html>
